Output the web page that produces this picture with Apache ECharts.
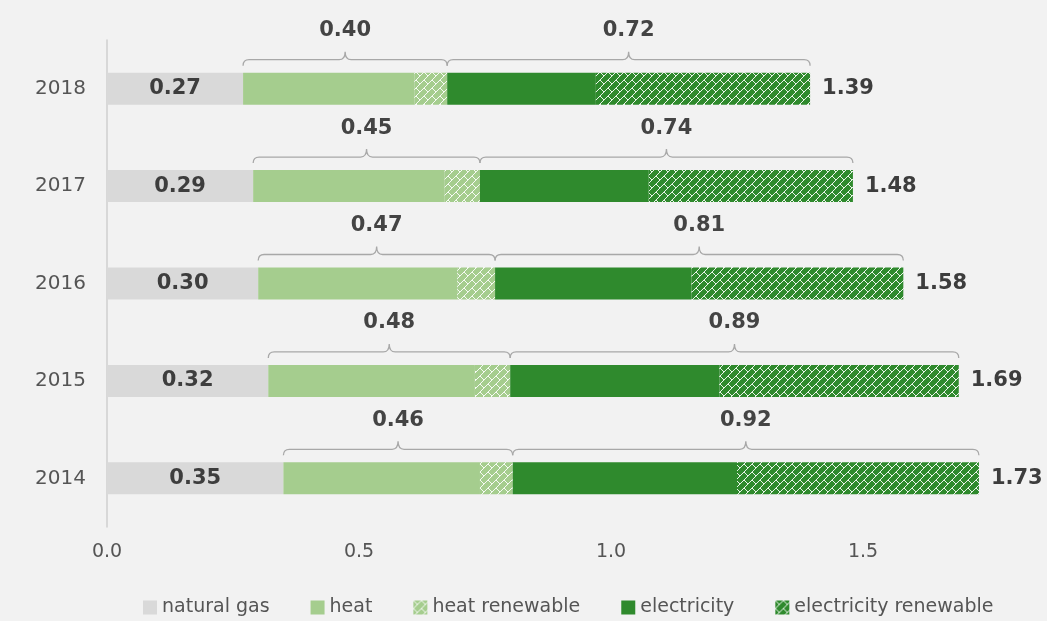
<!DOCTYPE html>
<html>
<head>
<meta charset="utf-8">
<script src="https://cdn.jsdelivr.net/npm/echarts@6/dist/echarts.min.js"></script>
<style>
html,body{margin:0;padding:0;background:#f2f2f2;}
#chart{width:1047px;height:621px;}
</style>
</head>
<body>
<div id="chart"></div>
<script>
// ---- data ----
var years = ['2018', '2017', '2016', '2015', '2014'];
var naturalGas = [0.27, 0.29, 0.30, 0.32, 0.35];
var heat = [0.34, 0.38, 0.395, 0.41, 0.39];
var heatRenewable = [0.065, 0.07, 0.075, 0.07, 0.065];
var electricity = [0.295, 0.335, 0.39, 0.415, 0.445];
var electricityRenewable = [0.425, 0.405, 0.42, 0.475, 0.48];
var heatTotalLabels = ['0.40', '0.45', '0.47', '0.48', '0.46'];
var elecTotalLabels = ['0.72', '0.74', '0.81', '0.89', '0.92'];
var totalLabels = ['1.39', '1.48', '1.58', '1.69', '1.73'];
var gasLabels = ['0.27', '0.29', '0.30', '0.32', '0.35'];
var xTicks = [0, 0.5, 1.0, 1.5];

var FONT = 'DejaVu Sans';
var BAR_W = 32;

function makePattern(base) {
  var c = document.createElement('canvas');
  c.width = 8; c.height = 8;
  var ctx = c.getContext('2d');
  ctx.fillStyle = base;
  ctx.fillRect(0, 0, 8, 8);
  ctx.strokeStyle = 'rgba(255,255,255,0.9)';
  ctx.lineWidth = 1;
  ctx.beginPath();
  ctx.moveTo(-1, 9); ctx.lineTo(9, -1);
  ctx.moveTo(-1, 1); ctx.lineTo(1, -1);
  ctx.moveTo(7, 9); ctx.lineTo(9, 7);
  ctx.moveTo(0, 0); ctx.lineTo(4, 4);
  ctx.stroke();
  return { image: c, repeat: 'repeat' };
}

var cGas = '#d9d9d9', cHeat = '#a5cd8e', cElec = '#2f8a2d';

// bracket data built from the arrays: [category, start, end]
var bracketData = [];
var bracketLabels = [];
years.forEach(function (y, i) {
  var hs = naturalGas[i];
  var he = hs + heat[i] + heatRenewable[i];
  var ee = he + electricity[i] + electricityRenewable[i];
  bracketData.push([i, hs, he]); bracketLabels.push(heatTotalLabels[i]);
  bracketData.push([i, he, ee]); bracketLabels.push(elecTotalLabels[i]);
});

function renderBracket(params, api) {
  var cat = api.value(0);
  var p0 = api.coord([api.value(1), cat]);
  var p1 = api.coord([api.value(2), cat]);
  var x0 = p0[0], x1 = p1[0];
  var y = p0[1] - BAR_W / 2 - 13;
  var xm = (x0 + x1) / 2;
  var r = 6;
  var d = 'M' + x0 + ' ' + (y + 6) +
    ' Q' + x0 + ' ' + y + ' ' + (x0 + r) + ' ' + y +
    ' L' + (xm - r) + ' ' + y +
    ' Q' + xm + ' ' + y + ' ' + xm + ' ' + (y - 8) +
    ' Q' + xm + ' ' + y + ' ' + (xm + r) + ' ' + y +
    ' L' + (x1 - r) + ' ' + y +
    ' Q' + x1 + ' ' + y + ' ' + x1 + ' ' + (y + 6);
  return {
    type: 'group',
    children: [
      { type: 'path', shape: { pathData: d }, style: { fill: 'none', stroke: '#a8a8a8', lineWidth: 1.3 } },
      { type: 'text', style: { x: xm, y: y - 29, text: bracketLabels[params.dataIndex], fill: '#444', font: 'bold 21px "' + FONT + '"', align: 'center', verticalAlign: 'middle' } }
    ]
  };
}

var chart = echarts.init(document.getElementById('chart'), null, { renderer: 'canvas' });
var labelBold = { fontFamily: FONT, fontWeight: 'bold', fontSize: 21, color: '#3d3d3d' };

chart.setOption({
  backgroundColor: '#f2f2f2',
  animation: false,
  grid: { left: 107, top: 40, height: 487, width: 882 },
  legend: {
    data: ['natural gas', 'heat', 'heat renewable', 'electricity', 'electricity renewable'],
    left: 138, top: 593,
    icon: 'rect', itemWidth: 14, itemHeight: 14, itemGap: 41,
    textStyle: { fontFamily: FONT, fontSize: 19, color: '#555' }
  },
  xAxis: {
    type: 'value', min: 0, max: 1.75, interval: 0.25,
    axisLine: { show: false }, axisTick: { show: false }, splitLine: { show: false },
    axisLabel: {
      margin: 16, fontFamily: FONT, fontSize: 19, color: '#555',
      formatter: function (v) {
        for (var k = 0; k < xTicks.length; k++) { if (Math.abs(v - xTicks[k]) < 1e-6) return xTicks[k].toFixed(1); }
        return '';
      }
    }
  },
  yAxis: {
    type: 'category', data: years, inverse: true,
    axisLine: { show: true, lineStyle: { color: '#cfcfcf', width: 1.5 } },
    axisTick: { show: false },
    axisLabel: { margin: 21, fontFamily: FONT, fontSize: 20, color: '#555' }
  },
  series: [
    { name: 'natural gas', type: 'bar', stack: 's', barWidth: BAR_W, data: naturalGas,
      itemStyle: { color: cGas },
      label: Object.assign({ show: true, position: 'inside', formatter: function (p) { return gasLabels[p.dataIndex]; } }, labelBold) },
    { name: 'heat', type: 'bar', stack: 's', barWidth: BAR_W, data: heat, itemStyle: { color: cHeat } },
    { name: 'heat renewable', type: 'bar', stack: 's', barWidth: BAR_W, data: heatRenewable, itemStyle: { color: makePattern(cHeat) } },
    { name: 'electricity', type: 'bar', stack: 's', barWidth: BAR_W, data: electricity, itemStyle: { color: cElec } },
    { name: 'electricity renewable', type: 'bar', stack: 's', barWidth: BAR_W, data: electricityRenewable,
      itemStyle: { color: makePattern(cElec) },
      label: Object.assign({ show: true, position: 'right', distance: 12, formatter: function (p) { return totalLabels[p.dataIndex]; } }, labelBold) },
    { name: 'brackets', type: 'custom', renderItem: renderBracket, data: bracketData, clip: false, silent: true, z: 5,
      encode: { x: [1, 2], y: 0 } }
  ]
});
</script>
</body>
</html>
